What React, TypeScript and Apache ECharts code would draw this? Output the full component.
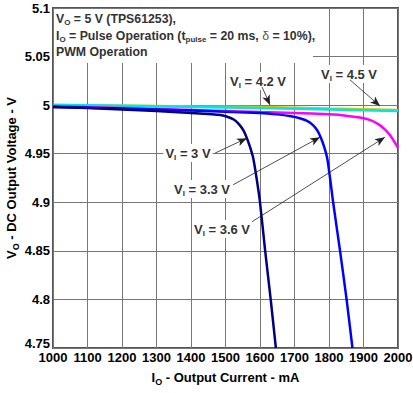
import React, { useEffect, useRef } from "react";
import * as echarts from "echarts";

const xMin = 1000, xMax = 2000, xStep = 100;
const yMin = 4.75, yMax = 5.1, yStep = 0.05;

// VI = 3 V
const vi30: number[][] = [
  [1000, 4.998], [1100, 4.997], [1200, 4.9955], [1300, 4.994], [1400, 4.992],
  [1450, 4.991], [1480, 4.990], [1505, 4.988], [1525, 4.985], [1540, 4.980],
  [1552, 4.974], [1562, 4.966], [1571, 4.957], [1580, 4.946], [1590, 4.925],
  [1600, 4.9], [1615, 4.85], [1631, 4.8], [1646, 4.75],
];
// VI = 3.3 V
const vi33: number[][] = [
  [1000, 4.998], [1200, 4.9965], [1400, 4.9945], [1600, 4.992], [1650, 4.9905],
  [1690, 4.9885], [1715, 4.9865], [1735, 4.984], [1752, 4.980], [1766, 4.974],
  [1777, 4.966], [1786, 4.957], [1795, 4.945], [1803, 4.925], [1812, 4.9],
  [1832, 4.85], [1851, 4.8], [1868, 4.75],
];
// VI = 3.6 V
const vi36: number[][] = [
  [1000, 4.999], [1200, 4.997], [1400, 4.995], [1600, 4.993], [1700, 4.992],
  [1800, 4.9905], [1850, 4.9892], [1890, 4.9872], [1920, 4.9845], [1945, 4.980],
  [1962, 4.975], [1977, 4.969], [1990, 4.962], [2000, 4.956],
];
// VI = 4.2 V
const vi42: number[][] = [
  [1000, 5.0], [1200, 4.9995], [1400, 4.9985], [1600, 4.998], [1800, 4.9965], [2000, 4.995],
];
// VI = 4.5 V
const vi45: number[][] = [
  [1000, 5.0005], [1200, 4.9995], [1400, 4.998], [1600, 4.997], [1800, 4.9955], [2000, 4.994],
];

// annotation arrows (data coordinates: from -> to)
const arrows: number[][][] = [
  [[1470, 4.9507], [1562, 4.966]],
  [[1522, 4.918], [1774, 4.967]],
  [[1577, 4.88], [1962, 4.967]],
  [[1606, 5.0187], [1629, 5.0001]],
  [[1861, 5.026], [1948, 4.999]],
];

const labelTexts = ["3 V", "3.3 V", "3.6 V", "4.2 V", "4.5 V"];
// label centres, pixels
const labelPos: number[][] = [
  [188, 153], [202, 189], [222, 229], [258, 81], [349, 74],
];

const FONT = "'Liberation Sans', Arial, sans-serif";

export default function App() {
  const ref = useRef<HTMLDivElement>(null);
  useEffect(() => {
    if (!ref.current) return;
    const chart = echarts.init(ref.current, undefined, { renderer: "svg" });
    const mkLine = (data: number[][], color: string, z: number, extra: any = {}) => ({
      type: "line",
      data,
      showSymbol: false,
      symbol: "none",
      smooth: 0.2,
      z,
      lineStyle: { color, width: 2.5 },
      ...extra,
    });
    const richLbl = {
      n: { fontSize: 13, fontWeight: "bold", fill: "#333", fontFamily: FONT },
      s: { fontSize: 8, fontWeight: "bold", fill: "#333", fontFamily: FONT, padding: [8, 0, 0, 0] },
    };
    const richBox = {
      n: { fontSize: 12.3, fontWeight: "bold", fill: "#333", fontFamily: FONT, lineHeight: 16.5 },
      s: { fontSize: 8, fontWeight: "bold", fill: "#333", fontFamily: FONT, padding: [7, 0, 0, 0], lineHeight: 16.5 },
      d: { fontSize: 12.3, fontWeight: "normal", fill: "#555", fontFamily: FONT, lineHeight: 16.5 },
    };
    const nameRich = {
      n: { fontSize: 13, fontWeight: "bold", color: "#000", fontFamily: FONT },
      s: { fontSize: 9, fontWeight: "bold", color: "#000", fontFamily: FONT, padding: [8, 0, 0, 0] },
    };
    chart.setOption({
      animation: false,
      grid: {
        left: 53, right: 15, top: 8, bottom: 45,
        outerBoundsMode: "none", containLabel: false,
        show: true, borderColor: "#555", borderWidth: 2, backgroundColor: "#fff",
      },
      xAxis: {
        type: "value", min: xMin, max: xMax, interval: xStep,
        axisLine: { show: false }, axisTick: { show: false },
        splitLine: { show: true, lineStyle: { color: "#777", width: 1 } },
        axisLabel: {
          color: "#000", fontSize: 13, fontWeight: "bold", fontFamily: FONT, margin: 3,
          formatter: (v: number) => String(v),
        },
        name: "{n|I}{s|O}{n| - Output Current - mA}",
        nameLocation: "middle", nameGap: 21, nameMoveOverlap: false,
        nameTextStyle: { rich: nameRich },
      },
      yAxis: {
        type: "value", min: yMin, max: yMax, interval: yStep,
        axisLine: { show: false }, axisTick: { show: false },
        splitLine: { show: true, lineStyle: { color: "#777", width: 1 } },
        axisLabel: {
          color: "#000", fontSize: 13, fontWeight: "bold", fontFamily: FONT, margin: 3,
          formatter: (v: number) => {
            const s = String(+v.toFixed(2));
            return Math.abs(v - yMin) < 1e-9 ? "{up|" + s + "}" : s;
          },
          rich: {
            up: { color: "#000", fontSize: 13, fontWeight: "bold", fontFamily: FONT, padding: [0, 0, 9, 0] },
          },
        },
        name: "{n|V}{s|O}{n| - DC Output Voltage - V}",
        nameLocation: "middle", nameGap: 33, nameRotate: 90, nameMoveOverlap: false,
        nameTextStyle: { rich: nameRich },
      },
      series: [
        mkLine(vi42, "#c8c800", 3),
        mkLine(vi45, "#00e5e5", 4),
        mkLine(vi36, "#ff00ff", 5),
        mkLine(vi33, "#0000ff", 6),
        mkLine(vi30, "#000080", 7, {
          markLine: {
            silent: true,
            symbol: ["none", "arrow"],
            symbolSize: [6, 10],
            label: { show: false },
            lineStyle: { color: "#222", width: 0.8, type: "solid" },
            emphasis: { disabled: true },
            z: 20,
            data: arrows.map((a) => [{ coord: a[0] }, { coord: a[1] }]),
          },
        }),
      ],
      graphic: [
        { type: "rect", z: 1, shape: { x: 54, y: 9, width: 259, height: 54 }, style: { fill: "#fff" } },
        {
          type: "text", z: 10, x: 56, y: 11,
          style: {
            text:
              "{n|V}{s|O}{n| = 5 V (TPS61253),}\n" +
              "{n|I}{s|O}{n| = Pulse Operation (t}{s|pulse}{n| = 20 ms, }{d|δ}{n| = 10%),}\n" +
              "{n|PWM Operation}",
            rich: richBox,
            fill: "#333",
          },
        },
        ...labelTexts.map((t, i) => ({
          type: "text", z: 10, x: labelPos[i][0], y: labelPos[i][1],
          style: {
            text: "{n|V}{s|I}{n| = " + t + "}",
            rich: richLbl,
            align: "center", verticalAlign: "middle",
            backgroundColor: "#fff", padding: [1, 2, 1, 2],
            fill: "#333",
          },
        })),
      ],
    });
    return () => chart.dispose();
  }, []);
  return <div ref={ref} style={{ width: 413, height: 393, position: "absolute", left: 0, top: 0 }} />;
}
